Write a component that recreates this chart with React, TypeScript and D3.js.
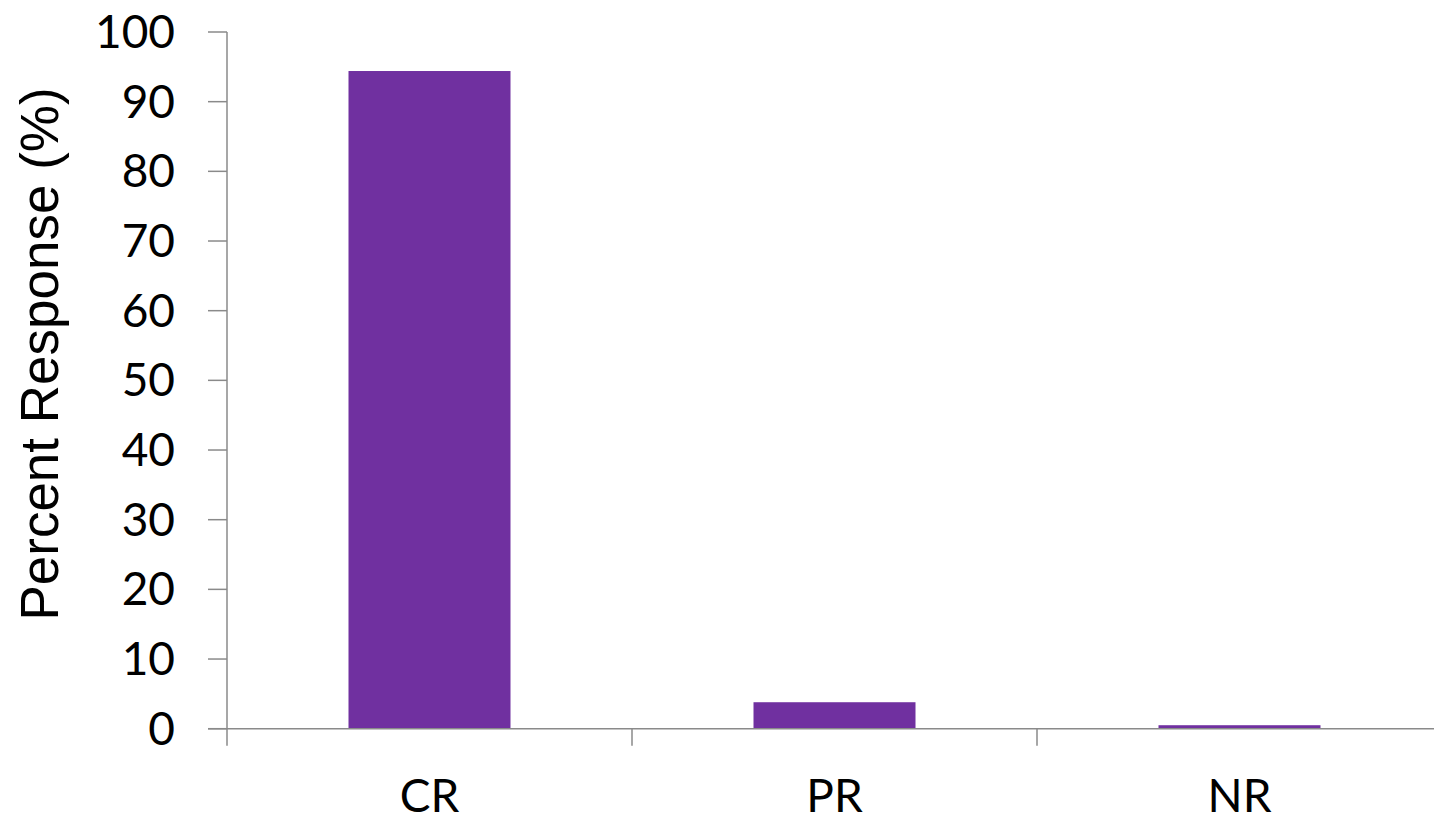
import React, { useEffect, useRef } from "react";
import * as d3 from "d3";

// Response categories and their percentages
const categories: string[] = ["CR", "PR", "NR"];
const responsePercent: number[] = [94.4, 3.8, 0.5];
const yTicks: number[] = [0, 10, 20, 30, 40, 50, 60, 70, 80, 90, 100];
const yTitle = "Percent Response (%)";

const WIDTH = 1434;
const HEIGHT = 818;

export default function App() {
  const ref = useRef<SVGSVGElement | null>(null);

  useEffect(() => {
    const svg = d3.select(ref.current);
    svg.selectAll("*").remove();

    const left = 227;
    const right = 1442;
    const top = 32;
    const bottom = 728.7;

    const x = d3
      .scaleBand<string>()
      .domain(categories)
      .range([left, right])
      .paddingInner(0.6)
      .paddingOuter(0.3);

    const y = d3.scaleLinear().domain([0, 100]).range([bottom, top]);

    const axisColor = "#8a8a8a";
    const tickFont = "Lato, 'Open Sans', sans-serif";

    // bars
    svg
      .append("g")
      .selectAll("rect")
      .data(categories)
      .join("rect")
      .attr("x", (d) => x(d)!)
      .attr("width", x.bandwidth())
      .attr("y", (_d, i) => y(responsePercent[i]))
      .attr("height", (_d, i) => bottom - y(responsePercent[i]))
      .attr("fill", "#7030A0");

    // y axis
    const yAxis = svg.append("g");
    yAxis
      .append("line")
      .attr("x1", left)
      .attr("x2", left)
      .attr("y1", top)
      .attr("y2", bottom)
      .attr("stroke", axisColor)
      .attr("stroke-width", 1.5);
    yAxis
      .selectAll("line.tick")
      .data(yTicks)
      .join("line")
      .attr("class", "tick")
      .attr("x1", left - 19)
      .attr("x2", left)
      .attr("y1", (d) => y(d))
      .attr("y2", (d) => y(d))
      .attr("stroke", axisColor)
      .attr("stroke-width", 1.5);
    yAxis
      .selectAll("text")
      .data(yTicks)
      .join("text")
      .attr("x", 175)
      .attr("y", (d) => y(d))
      .attr("dy", "0.35em")
      .attr("text-anchor", "end")
      .attr("font-family", tickFont)
      .attr("font-size", 46)
      .attr("fill", "#000")
      .text((d) => String(d));

    // x axis
    const xAxis = svg.append("g");
    xAxis
      .append("line")
      .attr("x1", left - 19)
      .attr("x2", right)
      .attr("y1", bottom)
      .attr("y2", bottom)
      .attr("stroke", axisColor)
      .attr("stroke-width", 1.5);
    const boundaries = categories.map((c) => x(c)! - (x.step() * x.paddingInner()) / 2 - (x.step() - x.bandwidth() - x.step() * x.paddingInner()) / 2);
    boundaries.push(right);
    xAxis
      .selectAll("line.tick")
      .data(boundaries)
      .join("line")
      .attr("class", "tick")
      .attr("x1", (d) => d)
      .attr("x2", (d) => d)
      .attr("y1", bottom)
      .attr("y2", bottom + 17)
      .attr("stroke", axisColor)
      .attr("stroke-width", 1.5);
    xAxis
      .selectAll("text")
      .data(categories)
      .join("text")
      .attr("x", (d) => x(d)! + x.bandwidth() / 2)
      .attr("y", 812)
      .attr("text-anchor", "middle")
      .attr("font-family", tickFont)
      .attr("font-size", 46)
      .attr("fill", "#000")
      .text((d) => d);

    // y axis title
    svg
      .append("text")
      .attr("transform", `translate(58, 354) rotate(-90)`)
      .attr("text-anchor", "middle")
      .attr("font-family", "'Liberation Sans', Arial, sans-serif")
      .attr("font-size", 53)
      .attr("fill", "#000")
      .text(yTitle);
  }, []);

  return (
    <svg
      ref={ref}
      width={WIDTH}
      height={HEIGHT}
      style={{ position: "fixed", left: 0, top: 0, background: "#fff" }}
    />
  );
}
